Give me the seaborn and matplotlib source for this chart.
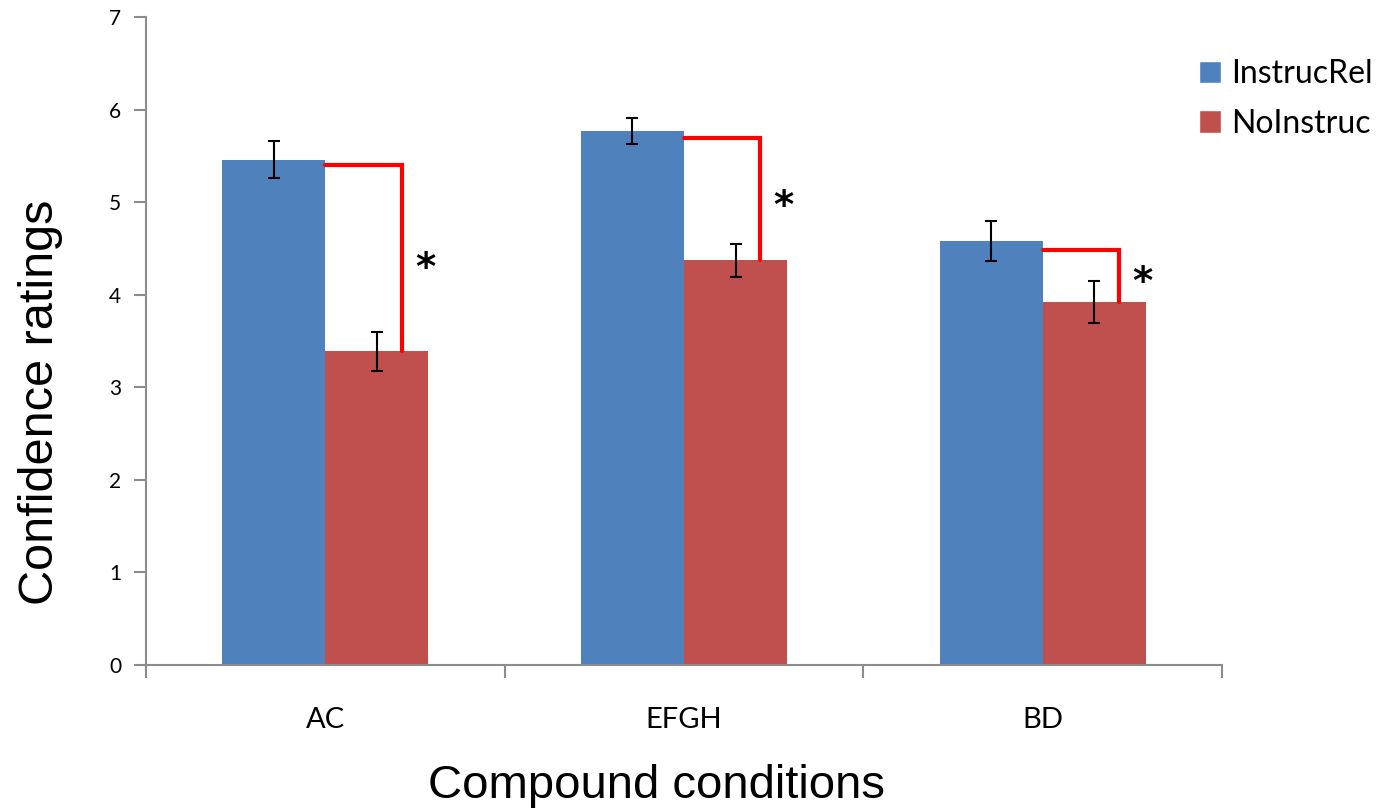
import numpy as np
import pandas as pd
import seaborn as sns
import matplotlib.pyplot as plt
from matplotlib.patches import Patch

# values
conditions = ['AC', 'EFGH', 'BD']
groups = ['InstrucRel', 'NoInstruc']
instruc_rel = [5.46, 5.77, 4.58]
no_instruc = [3.39, 4.37, 3.92]
instruc_rel_err = [0.20, 0.14, 0.22]
no_instruc_err = [0.21, 0.18, 0.23]
bracket_top = [5.40, 5.69, 4.48]
star_y = [4.28, 4.95, 4.13]

colors = ['#4F81BD', '#C0504D']

df = pd.DataFrame({
    'Condition': conditions * 2,
    'Group': [groups[0]] * 3 + [groups[1]] * 3,
    'Rating': instruc_rel + no_instruc,
})

sns.set_style('white')
plt.rcParams['font.family'] = ['Lato', 'DejaVu Sans']
plt.rcParams['text.color'] = 'black'
plt.rcParams['axes.labelcolor'] = 'black'
plt.rcParams['xtick.labelcolor'] = 'black'
plt.rcParams['ytick.labelcolor'] = 'black'

fig = plt.figure(figsize=(13.86, 8.09), dpi=100)
ax = fig.add_axes([146 / 1386, 1 - 665 / 809, (1222 - 146) / 1386, (665 - 17) / 809])

sns.barplot(data=df, x='Condition', y='Rating', hue='Group', order=conditions,
            hue_order=groups, palette=colors, width=0.575, errorbar=None,
            saturation=1, ax=ax, legend=False, linewidth=0)

# error bars on bar centres
for cont, err in zip(ax.containers, [instruc_rel_err, no_instruc_err]):
    xs = [b.get_x() + b.get_width() / 2 for b in cont]
    ys = [b.get_height() for b in cont]
    ax.errorbar(xs, ys, yerr=err, fmt='none', ecolor='black', elinewidth=1.5,
                capsize=4.5, capthick=1.5, zorder=5)

# significance brackets
for i, (b_blue, b_red) in enumerate(zip(ax.containers[0], ax.containers[1])):
    x0 = b_blue.get_x() + b_blue.get_width()
    x1 = b_red.get_x() + 0.74 * b_red.get_width()
    ax.plot([x0, x1, x1], [bracket_top[i], bracket_top[i], b_red.get_height()],
            color='#FF0000', lw=3, solid_joinstyle='miter', zorder=4)
    ax.text(x1 + 0.065, star_y[i], '*', fontsize=28, fontweight='bold',
            ha='center', va='center', family=['DejaVu Sans'])

ax.set_ylim(0, 7)
ax.set_xlim(-0.5, 2.5)
ax.set_yticks(range(8))
ax.set_xticks([-0.5, 0.5, 1.5, 2.5], minor=True)
ax.tick_params(axis='x', which='major', length=0, labelsize=21, pad=30)
ax.tick_params(axis='x', which='minor', length=9, width=1.5, color='#8C8C8C')
ax.tick_params(axis='y', length=9, width=1.5, color='#8C8C8C', labelsize=15, pad=9)
ax.tick_params(left=True, bottom=True)
ax.tick_params(axis='x', which='minor', bottom=True)

for s in ['top', 'right']:
    ax.spines[s].set_visible(False)
for s in ['left', 'bottom']:
    ax.spines[s].set_color('#8C8C8C')
    ax.spines[s].set_linewidth(1.5)

ax.set_xlabel('Compound conditions', fontsize=34, family=['Liberation Sans'])
ax.set_ylabel('Confidence ratings', fontsize=35, family=['Liberation Sans'])
ax.xaxis.set_label_coords((657 - 146) / 1076, -(808 - 665) / 648, transform=ax.transAxes)
ax.xaxis.label.set_va('bottom')
ax.yaxis.set_label_coords(-(146 - 18) / 1076, (665 - 402) / 648, transform=ax.transAxes)
ax.yaxis.label.set_va('top')

handles = [Patch(facecolor=c, label=g) for c, g in zip(colors, groups)]
fig.legend(handles=handles, loc='upper left', bbox_to_anchor=(1199 / 1386, 1 - 59 / 809),
           frameon=False, fontsize=23, handlelength=0.7, handleheight=0.7,
           handletextpad=0.3, labelspacing=0.62, borderpad=0, borderaxespad=0)

fig.savefig('out.png', dpi=100)
